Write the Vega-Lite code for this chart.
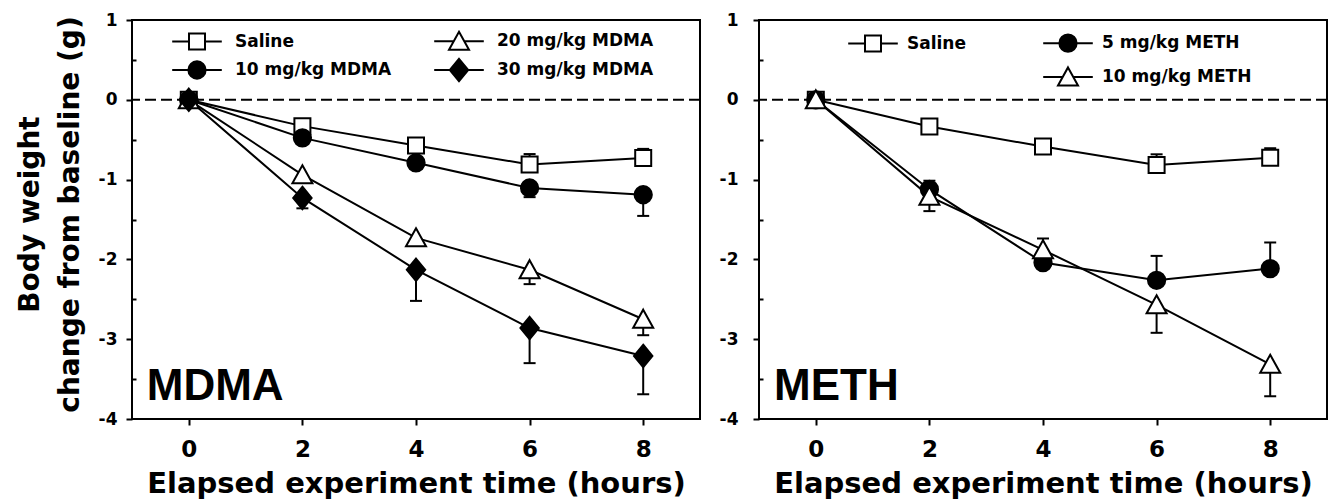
{
  "$schema": "https://vega.github.io/schema/vega-lite/v6.json",
  "background": "white",
  "padding": {"left": 15, "top": 10, "right": 5, "bottom": 2},
  "spacing": 16,
  "config": {
    "view": {"stroke": "black", "strokeWidth": 2},
    "axis": {
      "labelFont": "DejaVu Sans", "labelFontWeight": "bold", "labelColor": "black",
      "titleFont": "DejaVu Sans", "titleFontWeight": "bold", "titleColor": "black",
      "grid": false, "domain": false, "tickColor": "black", "tickWidth": 2, "tickSize": 6
    },
    "axisX": {"labelFontSize": 23, "titleFontSize": 29, "labelPadding": 13, "titlePadding": 8},
    "axisY": {"labelFontSize": 17, "titleFontSize": 28},
    "legend": {"labelFont": "DejaVu Sans", "labelFontWeight": "bold", "labelFontSize": 17, "labelColor": "black"}
  },
  "datasets": {
    "mdma": [
      {"group": "Saline", "t": 0, "mean": 0, "err": 0},
      {"group": "Saline", "t": 2, "mean": -0.33, "err": -0.36},
      {"group": "Saline", "t": 4, "mean": -0.574, "err": -0.61},
      {"group": "Saline", "t": 6, "mean": -0.81, "err": -0.68},
      {"group": "Saline", "t": 8, "mean": -0.73, "err": -0.615},
      {"group": "10 mg/kg MDMA", "t": 0, "mean": 0, "err": 0},
      {"group": "10 mg/kg MDMA", "t": 2, "mean": -0.477, "err": -0.52},
      {"group": "10 mg/kg MDMA", "t": 4, "mean": -0.79, "err": -0.84},
      {"group": "10 mg/kg MDMA", "t": 6, "mean": -1.105, "err": -1.22},
      {"group": "10 mg/kg MDMA", "t": 8, "mean": -1.19, "err": -1.455},
      {"group": "20 mg/kg MDMA", "t": 0, "mean": 0, "err": 0},
      {"group": "20 mg/kg MDMA", "t": 2, "mean": -0.94, "err": -0.99},
      {"group": "20 mg/kg MDMA", "t": 4, "mean": -1.73, "err": -1.78},
      {"group": "20 mg/kg MDMA", "t": 6, "mean": -2.13, "err": -2.31},
      {"group": "20 mg/kg MDMA", "t": 8, "mean": -2.75, "err": -2.95},
      {"group": "30 mg/kg MDMA", "t": 0, "mean": 0, "err": 0},
      {"group": "30 mg/kg MDMA", "t": 2, "mean": -1.23, "err": -1.36},
      {"group": "30 mg/kg MDMA", "t": 4, "mean": -2.13, "err": -2.52},
      {"group": "30 mg/kg MDMA", "t": 6, "mean": -2.86, "err": -3.3},
      {"group": "30 mg/kg MDMA", "t": 8, "mean": -3.21, "err": -3.69}
    ],
    "meth": [
      {"group": "Saline", "t": 0, "mean": 0, "err": 0},
      {"group": "Saline", "t": 2, "mean": -0.335, "err": -0.37},
      {"group": "Saline", "t": 4, "mean": -0.586, "err": -0.62},
      {"group": "Saline", "t": 6, "mean": -0.817, "err": -0.683},
      {"group": "Saline", "t": 8, "mean": -0.725, "err": -0.607},
      {"group": "5 mg/kg METH", "t": 0, "mean": 0, "err": 0},
      {"group": "5 mg/kg METH", "t": 2, "mean": -1.123, "err": -1.014},
      {"group": "5 mg/kg METH", "t": 4, "mean": -2.04, "err": -2.08},
      {"group": "5 mg/kg METH", "t": 6, "mean": -2.262, "err": -1.956},
      {"group": "5 mg/kg METH", "t": 8, "mean": -2.115, "err": -1.788},
      {"group": "10 mg/kg METH", "t": 0, "mean": 0, "err": 0},
      {"group": "10 mg/kg METH", "t": 2, "mean": -1.21, "err": -1.395},
      {"group": "10 mg/kg METH", "t": 4, "mean": -1.88, "err": -1.738},
      {"group": "10 mg/kg METH", "t": 6, "mean": -2.57, "err": -2.92},
      {"group": "10 mg/kg METH", "t": 8, "mean": -3.316, "err": -3.715}
    ]
  },
  "hconcat": [
    {
      "width": 568,
      "height": 399,
      "data": {"name": "mdma"},
      "resolve": {"axis": {"y": "independent"}},
      "layer": [
        {
          "data": {"values": [{}]},
          "mark": {"type": "rule", "strokeDash": [11, 5], "strokeWidth": 2, "color": "black"},
          "encoding": {
            "y": {"datum": 0, "type": "quantitative", "scale": {"domain": [-4, 1], "nice": false},
              "axis": {"orient": "left", "values": [0.5, -0.5, -1.5, -2.5, -3.5], "labels": false, "tickSize": -4, "title": null}}
          }
        },
        {
          "transform": [{"filter": "datum.t > 0"}],
          "mark": {"type": "rule", "strokeWidth": 2, "color": "black"},
          "encoding": {
            "x": {"field": "t", "type": "quantitative", "scale": {"domain": [-1, 9], "nice": false},
              "axis": {"values": [0, 2, 4, 6, 8], "format": "d", "labelFontSize": 23, "labelPadding": 13, "title": "Elapsed experiment time (hours)", "titleFontSize": 29, "titlePadding": 8}},
            "y": {"field": "mean", "type": "quantitative", "axis": null},
            "y2": {"field": "err"}
          }
        },
        {
          "transform": [{"filter": "datum.t > 0"}],
          "mark": {"type": "tick", "orient": "horizontal", "size": 12, "thickness": 2, "color": "black", "opacity": 1},
          "encoding": {
            "x": {"field": "t", "type": "quantitative",
              "axis": {"values": [0, 2, 4, 6, 8], "format": "d", "labelFontSize": 23, "labelPadding": 13, "title": "Elapsed experiment time (hours)", "titleFontSize": 29, "titlePadding": 8}},
            "y": {"field": "err", "type": "quantitative", "axis": null}
          }
        },
        {
          "mark": {"type": "line", "strokeWidth": 2, "color": "black"},
          "encoding": {
            "x": {"field": "t", "type": "quantitative",
              "axis": {"values": [0, 2, 4, 6, 8], "format": "d", "labelFontSize": 23, "labelPadding": 13, "title": "Elapsed experiment time (hours)", "titleFontSize": 29, "titlePadding": 8}},
            "y": {"field": "mean", "type": "quantitative",
              "axis": {"orient": "left", "values": [-4, -3, -2, -1, 0, 1], "labelExpr": "toString(datum.value)", "labelFontSize": 17, "labelPadding": 9,
                "title": ["Body weight", "change from baseline (g)"], "titleFontSize": 28, "titleLineHeight": 40, "titlePadding": 14, "titleY": 194}},
            "detail": {"field": "group"}
          }
        },
        {
          "mark": {"type": "point", "filled": true, "opacity": 1, "stroke": "black", "strokeWidth": 2, "size": 256},
          "encoding": {
            "x": {"field": "t", "type": "quantitative",
              "axis": {"values": [0, 2, 4, 6, 8], "format": "d", "labelFontSize": 23, "labelPadding": 13, "title": "Elapsed experiment time (hours)", "titleFontSize": 29, "titlePadding": 8}},
            "y": {"field": "mean", "type": "quantitative", "axis": null},
            "shape": {"field": "group", "type": "nominal", "legend": null,
              "scale": {"domain": ["Saline", "10 mg/kg MDMA", "20 mg/kg MDMA", "30 mg/kg MDMA"],
                "range": ["M-1,-1H1V1H-1Z", "M-1.08,0A1.08,1.08,0,1,1,1.08,0A1.08,1.08,0,1,1,-1.08,0Z", "M0,-1.2L1.25,1.05H-1.25Z", "M0,-1.4L1.15,0L0,1.4L-1.15,0Z"]}},
            "fill": {"field": "group", "type": "nominal",
              "scale": {"domain": ["Saline", "20 mg/kg MDMA", "10 mg/kg MDMA", "30 mg/kg MDMA"], "range": ["white", "white", "black", "black"]},
              "legend": {
                "title": null, "orient": "none", "legendX": 56, "legendY": 12, "direction": "horizontal", "columns": 2, "columnPadding": 38, "rowPadding": 0,
                "symbolSize": 256, "symbolStrokeWidth": 2, "symbolStrokeColor": "black", "symbolOpacity": 1,
                "labelFont": "DejaVu Sans", "labelFontWeight": "bold", "labelFontSize": 17, "labelColor": "black", "labelOffset": 29, "labelLimit": 400, "padding": 0,
                "encode": {"symbols": {"update": {
                  "shape": {"signal": "datum.value === 'Saline' ? 'M-3.1,0H-1M-1,-1H1V1H-1ZM1,0H3.1' : datum.value === '20 mg/kg MDMA' ? 'M-3.1,0H-0.667M0,-1.2L1.25,1.05H-1.25ZM0.667,0H3.1' : datum.value === '10 mg/kg MDMA' ? 'M-3.1,0H-1.08M-1.08,0A1.08,1.08,0,1,1,1.08,0A1.08,1.08,0,1,1,-1.08,0ZM1.08,0H3.1' : 'M-3.1,0H-1.15M0,-1.4L1.15,0L0,1.4L-1.15,0ZM1.15,0H3.1'"},
                  "stroke": {"value": "black"}, "strokeWidth": {"value": 2}, "opacity": {"value": 1}
                }}}
              }}
          }
        },
        {
          "data": {"values": [{}]},
          "mark": {"type": "text", "text": "MDMA", "font": "Liberation Sans", "fontWeight": "bold", "fontSize": 44, "align": "left", "baseline": "alphabetic", "color": "black"},
          "encoding": {
            "x": {"datum": -0.74, "type": "quantitative",
              "axis": {"values": [0, 2, 4, 6, 8], "format": "d", "labelFontSize": 23, "labelPadding": 13, "title": "Elapsed experiment time (hours)", "titleFontSize": 29, "titlePadding": 8}},
            "y": {"datum": -3.76, "type": "quantitative", "axis": null}
          }
        }
      ]
    },
    {
      "width": 568,
      "height": 399,
      "data": {"name": "meth"},
      "resolve": {"axis": {"y": "independent"}},
      "layer": [
        {
          "data": {"values": [{}]},
          "mark": {"type": "rule", "strokeDash": [11, 5], "strokeWidth": 2, "color": "black"},
          "encoding": {
            "y": {"datum": 0, "type": "quantitative", "scale": {"domain": [-4, 1], "nice": false},
              "axis": {"orient": "left", "values": [0.5, -0.5, -1.5, -2.5, -3.5], "labels": false, "tickSize": -4, "title": null}}
          }
        },
        {
          "transform": [{"filter": "datum.t > 0"}],
          "mark": {"type": "rule", "strokeWidth": 2, "color": "black"},
          "encoding": {
            "x": {"field": "t", "type": "quantitative", "scale": {"domain": [-1, 9], "nice": false},
              "axis": {"values": [0, 2, 4, 6, 8], "format": "d", "labelFontSize": 23, "labelPadding": 13, "title": "Elapsed experiment time (hours)", "titleFontSize": 29, "titlePadding": 8}},
            "y": {"field": "mean", "type": "quantitative", "axis": null},
            "y2": {"field": "err"}
          }
        },
        {
          "transform": [{"filter": "datum.t > 0"}],
          "mark": {"type": "tick", "orient": "horizontal", "size": 12, "thickness": 2, "color": "black", "opacity": 1},
          "encoding": {
            "x": {"field": "t", "type": "quantitative",
              "axis": {"values": [0, 2, 4, 6, 8], "format": "d", "labelFontSize": 23, "labelPadding": 13, "title": "Elapsed experiment time (hours)", "titleFontSize": 29, "titlePadding": 8}},
            "y": {"field": "err", "type": "quantitative", "axis": null}
          }
        },
        {
          "mark": {"type": "line", "strokeWidth": 2, "color": "black"},
          "encoding": {
            "x": {"field": "t", "type": "quantitative",
              "axis": {"values": [0, 2, 4, 6, 8], "format": "d", "labelFontSize": 23, "labelPadding": 13, "title": "Elapsed experiment time (hours)", "titleFontSize": 29, "titlePadding": 8}},
            "y": {"field": "mean", "type": "quantitative",
              "axis": {"orient": "left", "values": [-4, -3, -2, -1, 0, 1], "labelExpr": "toString(datum.value)", "labelFontSize": 17, "labelPadding": 15, "title": null}},
            "detail": {"field": "group"}
          }
        },
        {
          "mark": {"type": "point", "filled": true, "opacity": 1, "stroke": "black", "strokeWidth": 2, "size": 256},
          "encoding": {
            "x": {"field": "t", "type": "quantitative",
              "axis": {"values": [0, 2, 4, 6, 8], "format": "d", "labelFontSize": 23, "labelPadding": 13, "title": "Elapsed experiment time (hours)", "titleFontSize": 29, "titlePadding": 8}},
            "y": {"field": "mean", "type": "quantitative", "axis": null},
            "shape": {"field": "group", "type": "nominal", "legend": null,
              "scale": {"domain": ["Saline", "5 mg/kg METH", "10 mg/kg METH"],
                "range": ["M-1,-1H1V1H-1Z", "M-1.08,0A1.08,1.08,0,1,1,1.08,0A1.08,1.08,0,1,1,-1.08,0Z", "M0,-1.2L1.25,1.05H-1.25Z"]}},
            "fill": {"field": "group", "type": "nominal",
              "scale": {"domain": ["Saline", "5 mg/kg METH", " ", "10 mg/kg METH"], "range": ["white", "black", "white", "white"]},
              "legend": {
                "title": null, "orient": "none", "legendX": 105, "legendY": 14, "direction": "horizontal", "columns": 2, "columnPadding": 72, "rowPadding": 7,
                "symbolSize": 256, "symbolStrokeWidth": 2, "symbolStrokeColor": "black", "symbolOpacity": 1,
                "labelFont": "DejaVu Sans", "labelFontWeight": "bold", "labelFontSize": 17, "labelColor": "black", "labelOffset": 25, "labelLimit": 400, "padding": 0,
                "encode": {"symbols": {"update": {
                  "shape": {"signal": "datum.value === 'Saline' ? 'M-3.1,0H-1M-1,-1H1V1H-1ZM1,0H3.1' : datum.value === '5 mg/kg METH' ? 'M-3.1,0H-1.08M-1.08,0A1.08,1.08,0,1,1,1.08,0A1.08,1.08,0,1,1,-1.08,0ZM1.08,0H3.1' : datum.value === ' ' ? 'M0,0' : 'M-3.1,0H-0.667M0,-1.2L1.25,1.05H-1.25ZM0.667,0H3.1'"},
                  "stroke": {"value": "black"}, "strokeWidth": {"value": 2}, "opacity": {"value": 1}
                }}}
              }}
          }
        },
        {
          "data": {"values": [{}]},
          "mark": {"type": "text", "text": "METH", "font": "Liberation Sans", "fontWeight": "bold", "fontSize": 44, "align": "left", "baseline": "alphabetic", "color": "black"},
          "encoding": {
            "x": {"datum": -0.735, "type": "quantitative",
              "axis": {"values": [0, 2, 4, 6, 8], "format": "d", "labelFontSize": 23, "labelPadding": 13, "title": "Elapsed experiment time (hours)", "titleFontSize": 29, "titlePadding": 8}},
            "y": {"datum": -3.76, "type": "quantitative", "axis": null}
          }
        }
      ]
    }
  ],
  "resolve": {"scale": {"x": "independent", "y": "independent", "fill": "independent", "shape": "independent"}, "legend": {"fill": "independent"}}
}
